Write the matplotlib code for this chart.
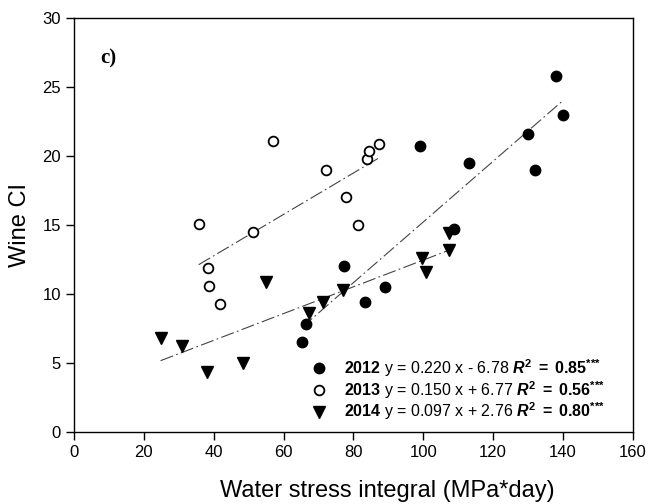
import numpy as np
import matplotlib
matplotlib.use('Agg')
import matplotlib.pyplot as plt
from matplotlib.lines import Line2D

plt.rcParams['font.family'] = ['Liberation Sans', 'DejaVu Sans']
plt.rcParams['mathtext.fontset'] = 'custom'
plt.rcParams['mathtext.rm'] = 'Liberation Sans'
plt.rcParams['mathtext.it'] = 'Liberation Sans:italic'
plt.rcParams['mathtext.bf'] = 'Liberation Sans:bold'
plt.rcParams['mathtext.bfit'] = 'Liberation Sans:bold:italic'

# 2012
x_2012 = [65.3, 66.4, 77.3, 83.3, 89.0, 99.0, 108.8, 113.0, 130.0, 132.0, 138.0, 140.0]
y_2012 = [6.5, 7.8, 12.0, 9.4, 10.5, 20.7, 14.7, 19.5, 21.6, 19.0, 25.8, 23.0]
# 2013
x_2013 = [35.7, 38.4, 38.7, 41.8, 51.3, 57.0, 72.1, 78.0, 81.2, 83.9, 84.5, 87.3]
y_2013 = [15.1, 11.9, 10.6, 9.3, 14.5, 21.1, 19.0, 17.0, 15.0, 19.8, 20.4, 20.9]
# 2014
x_2014 = [24.8, 30.8, 38.2, 48.4, 55.1, 67.3, 71.4, 77.0, 99.6, 100.7, 107.3, 107.3]
y_2014 = [6.8, 6.2, 4.35, 5.0, 10.9, 8.6, 9.4, 10.3, 12.6, 11.6, 13.2, 14.4]

# regression coefficients (slope, intercept, R2) as printed
fits = {
    '2012': (0.220, -6.78, 0.85),
    '2013': (0.150, 6.77, 0.56),
    '2014': (0.097, 2.76, 0.80),
}

fig = plt.figure(figsize=(6.49, 5.04), dpi=100)
ax = fig.add_axes([0.114, 0.143, 0.861, 0.821])

series = [
    ('2012', x_2012, y_2012, dict(marker='o', ms=7.5, mfc='black', mec='black')),
    ('2013', x_2013, y_2013, dict(marker='o', ms=7, mfc='white', mec='black', mew=1.3)),
    ('2014', x_2014, y_2014, dict(marker='v', ms=8.5, mfc='black', mec='black')),
]

handles = []
labels = []
for year, xs, ys, st in series:
    a, b, r2 = fits[year]
    xl = np.array([min(xs), max(xs)])
    ax.plot(xl, a * xl + b, color='#444444', lw=0.8, ls=(0, (12, 3, 1.5, 3)), zorder=1)
    ax.plot(xs, ys, ls='none', zorder=3, **st)
    h = Line2D([], [], ls='none', **st)
    sign = '-' if b < 0 else '+'
    lab = (r'$\mathbf{%s}$ y = %.3f x %s %.2f ' % (year, a, sign, abs(b))
           + r'$\mathbfit{R}^{\mathbf{2}}$ $\mathbf{{=}}$ $\mathbf{%.2f}^{\mathbf{{*}{*}{*}}}$' % r2)
    handles.append(h)
    labels.append(lab)

ax.legend(handles, labels, loc='lower right', bbox_to_anchor=(0.968, 0.0),
          frameon=False, fontsize=11.5, handletextpad=1.0, labelspacing=0.0,
          handlelength=1.2, borderaxespad=0.2)

ax.set_xlim(0, 160)
ax.set_ylim(0, 30)
ax.set_xticks(range(0, 161, 20))
ax.set_yticks(range(0, 31, 5))
ax.tick_params(direction='out', length=6, width=1, labelsize=12, top=False, right=False)
for s in ax.spines.values():
    s.set_linewidth(1)

ax.set_xlabel('Water stress integral (MPa*day)', fontsize=17)
ax.xaxis.set_label_coords(0.56, -0.115)
ax.set_ylabel('Wine CI', fontsize=17, labelpad=8)
ax.text(0.047, 0.89, 'c)', transform=ax.transAxes, fontsize=15,
        family='Liberation Serif', fontweight='bold')

fig.savefig('out.png', dpi=100)
